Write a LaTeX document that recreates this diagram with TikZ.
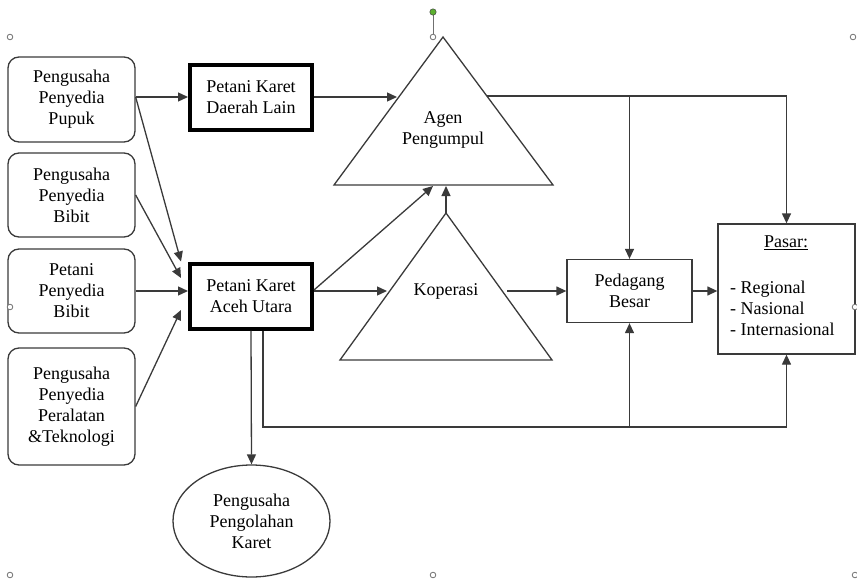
\documentclass[tikz,border=0pt]{standalone}
\usepackage{fontspec}
\setmainfont{Liberation Serif}
\newfontfamily\diagfont{Liberation Serif}
\usetikzlibrary{arrows.meta,shapes.geometric,calc}
\definecolor{linec}{HTML}{3A3A3A}
\definecolor{handle}{HTML}{707070}
\definecolor{rot}{HTML}{5CB030}
\newcommand\dfs{\diagfont\fontsize{18}{21}\selectfont}
\begin{document}
\begin{tikzpicture}[x=1pt,y=-1pt,
  line/.style={draw=linec, line width=1.3pt},
  arr/.style={line, -{Triangle[length=10pt,width=9pt]}},
  rbox/.style={draw=linec, line width=1.3pt, rounded corners=11pt, minimum width=127pt, align=center, font=\dfs, inner sep=0pt},
  tbox/.style={draw=black, line width=4pt, minimum width=122pt, minimum height=65pt, align=center, font=\dfs, inner sep=0pt},
  pbox/.style={draw=linec, line width=1.3pt, align=center, font=\dfs, inner sep=0pt},
  txt/.style={align=center, font=\dfs, inner sep=0pt},
  hdl/.style={draw=handle, line width=0.8pt, fill=white}]
\useasboundingbox (0,0) rectangle (857,581);

% left boxes
\node[rbox, minimum height=85pt] (pupuk) at (71.5,99.5) {Pengusaha\\Penyedia\\Pupuk};
\node[rbox, minimum height=84pt] (bibit1) at (71.5,195) {Pengusaha\\Penyedia\\Bibit};
\node[rbox, minimum height=84pt] (bibit2) at (71.5,291) {Petani\\Penyedia\\Bibit};
\node[rbox, minimum height=117pt] (alat) at (71.5,406.5) {Pengusaha\\Penyedia\\Peralatan\\\&Teknologi};

% thick boxes
\node[tbox] (lain) at (251,97.5) {Petani Karet\\Daerah Lain};
\node[tbox] (aceh) at (251,296) {Petani Karet\\Aceh Utara};

% triangles
\draw[line, line join=miter] (443,37) coordinate (agenTop) -- (553,185) -- (334,185) -- cycle;
\node[txt] (agen) at (443,130) {Agen\\Pengumpul};
\coordinate (agenL) at (397,97);
\coordinate (agenR) at (487,96);
\coordinate (agenB) at (433,186);
\coordinate (agenB2) at (446,186);

\draw[line, line join=miter] (446,213) coordinate (kopTop) -- (552,360) -- (340,360) -- cycle;
\node[txt] (kop) at (446,291) {Koperasi};
\coordinate (kopL) at (387,291);
\coordinate (kopR) at (507,291);

% right boxes
\node[pbox, minimum width=125pt, minimum height=63pt] (ped) at (629.5,291) {Pedagang\\Besar};
\node[pbox, minimum width=137pt, minimum height=130pt] (pasar) at (786.5,289) {};
\node[txt] (pasart) at (786,243) {\underline{Pasar:}};
\node[txt, anchor=west, align=left] (pasarl) at (730,308) {- Regional\\- Nasional\\- Internasional};

% ellipse
\node[draw=linec, line width=1.3pt, ellipse, minimum width=157pt, minimum height=112pt, inner sep=0pt, align=center, font=\dfs] (olah) at (251.5,521) {Pengusaha\\Pengolahan\\Karet};

% left connectors
\draw[arr] (pupuk.east |- 0,97) -- (lain.west |- 0,97);
\draw[arr] (pupuk.east |- 0,97) -- ([xshift=-7pt]aceh.north west);
\draw[arr] (bibit1.east) -- ([xshift=-7pt,yshift=18pt]aceh.west);
\draw[arr] (bibit2.east) -- (bibit2.east -| aceh.west);
\draw[arr] (alat.east) -- ([xshift=-7pt,yshift=-14pt]aceh.west);

% middle connectors
\draw[arr] (lain.east |- agenL) -- (agenL);
\draw[arr] ([yshift=6pt]aceh.east) -- (agenB);
\draw[arr] ([yshift=5pt]aceh.east) -- (kopL);
\draw[arr] (kopTop) -- (agenB2);
\draw[arr] (kopR) -- (ped.west |- kopR);
\draw[arr] (ped.east) -- (ped.east -| pasar.west);

% top route
\draw[arr] (agenR) -| (pasar.north);
\draw[arr] (ped.north |- agenR) -- (ped.north);

% bottom route
\path ([xshift=12pt]aceh.south) coordinate (a1);
\coordinate (a2) at (a1 |- 0,427);
\draw[arr] (a1) -- (a2) -| (pasar.south);
\draw[arr] (ped.south |- a2) -- (ped.south);
\draw[arr] (aceh.south) -- (olah.north);

% selection handles
\draw[draw=handle, line width=0.8pt] (433,13) -- (433,34);
\fill[rot, draw=handle!60!black, line width=0.5pt] (433,12) circle (3.2pt);
\foreach \hx/\hy in {10/37, 433/37, 853/37, 10/307, 855/307, 10/575, 433/575, 855/575}
  \draw[hdl] (\hx,\hy) circle (2.8pt);
\end{tikzpicture}
\end{document}
